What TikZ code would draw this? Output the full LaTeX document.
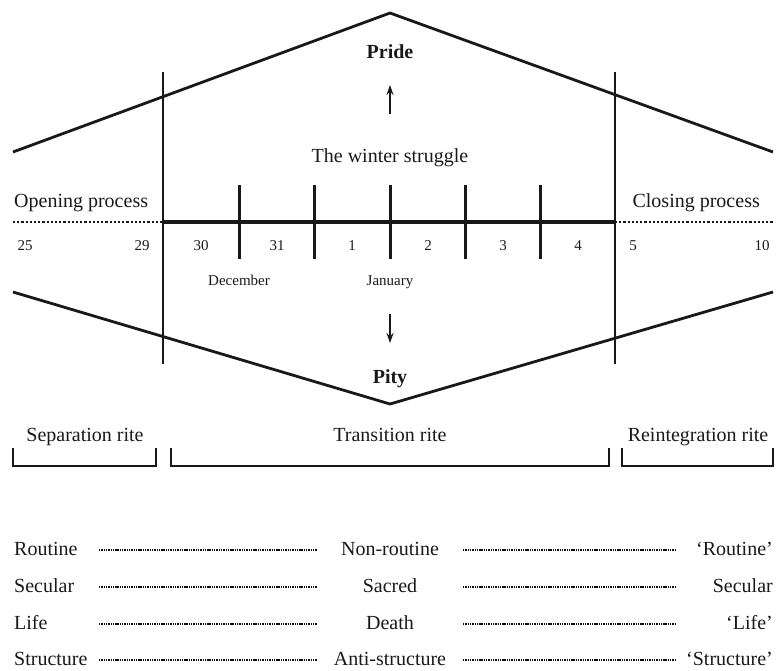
\documentclass[tikz,border=0pt]{standalone}
\usepackage{fontspec}
\setmainfont{Liberation Serif}
\usetikzlibrary{arrows.meta,positioning}

\tikzset{
  big/.style={font=\fontsize{20}{24}\selectfont, inner sep=0pt, text=black!90},
  small/.style={font=\fontsize{15}{18}\selectfont, inner sep=0pt, text=black!90},
  bold/.style={big, font=\fontsize{20}{24}\selectfont\bfseries},
  frame/.style={line width=2.8pt, black!90},
  bar/.style={line width=3pt, black!90},
  dotline/.style={line width=2.4pt, black!90, dash pattern=on 2.2pt off 2pt},
  fineline/.style={line width=2pt, black!95, dash pattern=on 1.4pt off 0.9pt},
  bracket/.style={line width=2.5pt, black!90},
  arr/.style={line width=2.2pt, black!90, -{Stealth[length=10pt,width=7pt]}},
}

\begin{document}
\begin{tikzpicture}[x=1pt,y=-1pt]
    \useasboundingbox (0,0) rectangle (776,670);
    %outline
    \coordinate (tl) at (13,152);
    \coordinate (top) at (390,13);
    \coordinate (tr) at (773,152);
    \coordinate (bl) at (13,292);
    \coordinate (bot) at (390,404);
    \coordinate (br) at (773,292);
    \draw[frame] (tl) -- (top) -- (tr);
    \draw[frame] (bl) -- (bot) -- (br);
    \coordinate (lt) at (163,72);
    \coordinate (lb) at (163,364);
    \coordinate (rt) at (615,72);
    \coordinate (rb) at (615,364);
    \draw[bar, line width=2.6pt] (lt) -- (lb);
    \draw[bar, line width=2.6pt] (rt) -- (rb);
    %time line
    \coordinate (t0) at (13,222);
    \coordinate (t1) at (163,222);
    \coordinate (t2) at (615,222);
    \coordinate (t3) at (773,222);
    \draw[dotline] (t0) -- (t1);
    \draw[bar, line width=3.4pt] (t1) -- (t2);
    \draw[dotline] (t2) -- (t3);
    \foreach \x [count=\i] in {239,314,390,465,540}{
      \coordinate (k\i a) at (\x,185);
      \coordinate (k\i b) at (\x,259);
      \draw[bar] (k\i a) -- (k\i b);
    }
    %labels
    \node[big, anchor=base west] (open) at (14,207) {Opening process};
    \node[big, anchor=base east] (close) at (760,207) {Closing process};
    \node[big, anchor=base] (struggle) at (390,162) {The winter struggle};
    \node[bold, anchor=base] (pride) at (390,58) {Pride};
    \node[bold, anchor=base] (pity) at (390,383) {Pity};
    \coordinate (upa) at (390,114);
    \coordinate (upb) at (390,85);
    \coordinate (dna) at (390,314);
    \coordinate (dnb) at (390,343);
    \draw[arr] (upa) -- (upb);
    \draw[arr] (dna) -- (dnb);
    %days
    \foreach \x/\d in {25/25,142/29,201/30,277/31,352/1,428/2,503/3,578/4,633/5,762/10}{
      \node[small, anchor=base] (day\d) at (\x,250) {\d};
    }
    \node[small, anchor=base] (dec) at (239,285) {December};
    \node[small, anchor=base] (jan) at (390,285) {January};
    %rites
    \node[big, anchor=base] (sep) at (85,441) {Separation rite};
    \node[big, anchor=base] (trans) at (390,441) {Transition rite};
    \node[big, anchor=base] (reint) at (698,441) {Reintegration rite};
    \foreach \a/\b [count=\i] in {13/156,171/609,622/773}{
      \coordinate (b\i l) at (\a,448);
      \coordinate (b\i r) at (\b,448);
      \draw[bracket] (b\i l) |- (\b,466) -- (b\i r);
    }
    %table
    \foreach \y/\p/\q/\r [count=\i] in {555/Routine/Non-routine/‘Routine’,592/Secular/Sacred/Secular,629/Life/Death/‘Life’,665/Structure/Anti-structure/‘Structure’}{
      \node[big, anchor=base west] (p\i) at (14,\y) {\p};
      \node[big, anchor=base] (q\i) at (390,\y) {\q};
      \node[big, anchor=base east] (r\i) at (773,\y) {\r};
      \coordinate (s\i a) at (99,\y-5.5);
      \coordinate (s\i b) at (317,\y-5.5);
      \coordinate (s\i c) at (463,\y-5.5);
      \coordinate (s\i d) at (675,\y-5.5);
      \draw[fineline] (s\i a) -- (s\i b);
      \draw[fineline] (s\i c) -- (s\i d);
    }
\end{tikzpicture}
\end{document}
